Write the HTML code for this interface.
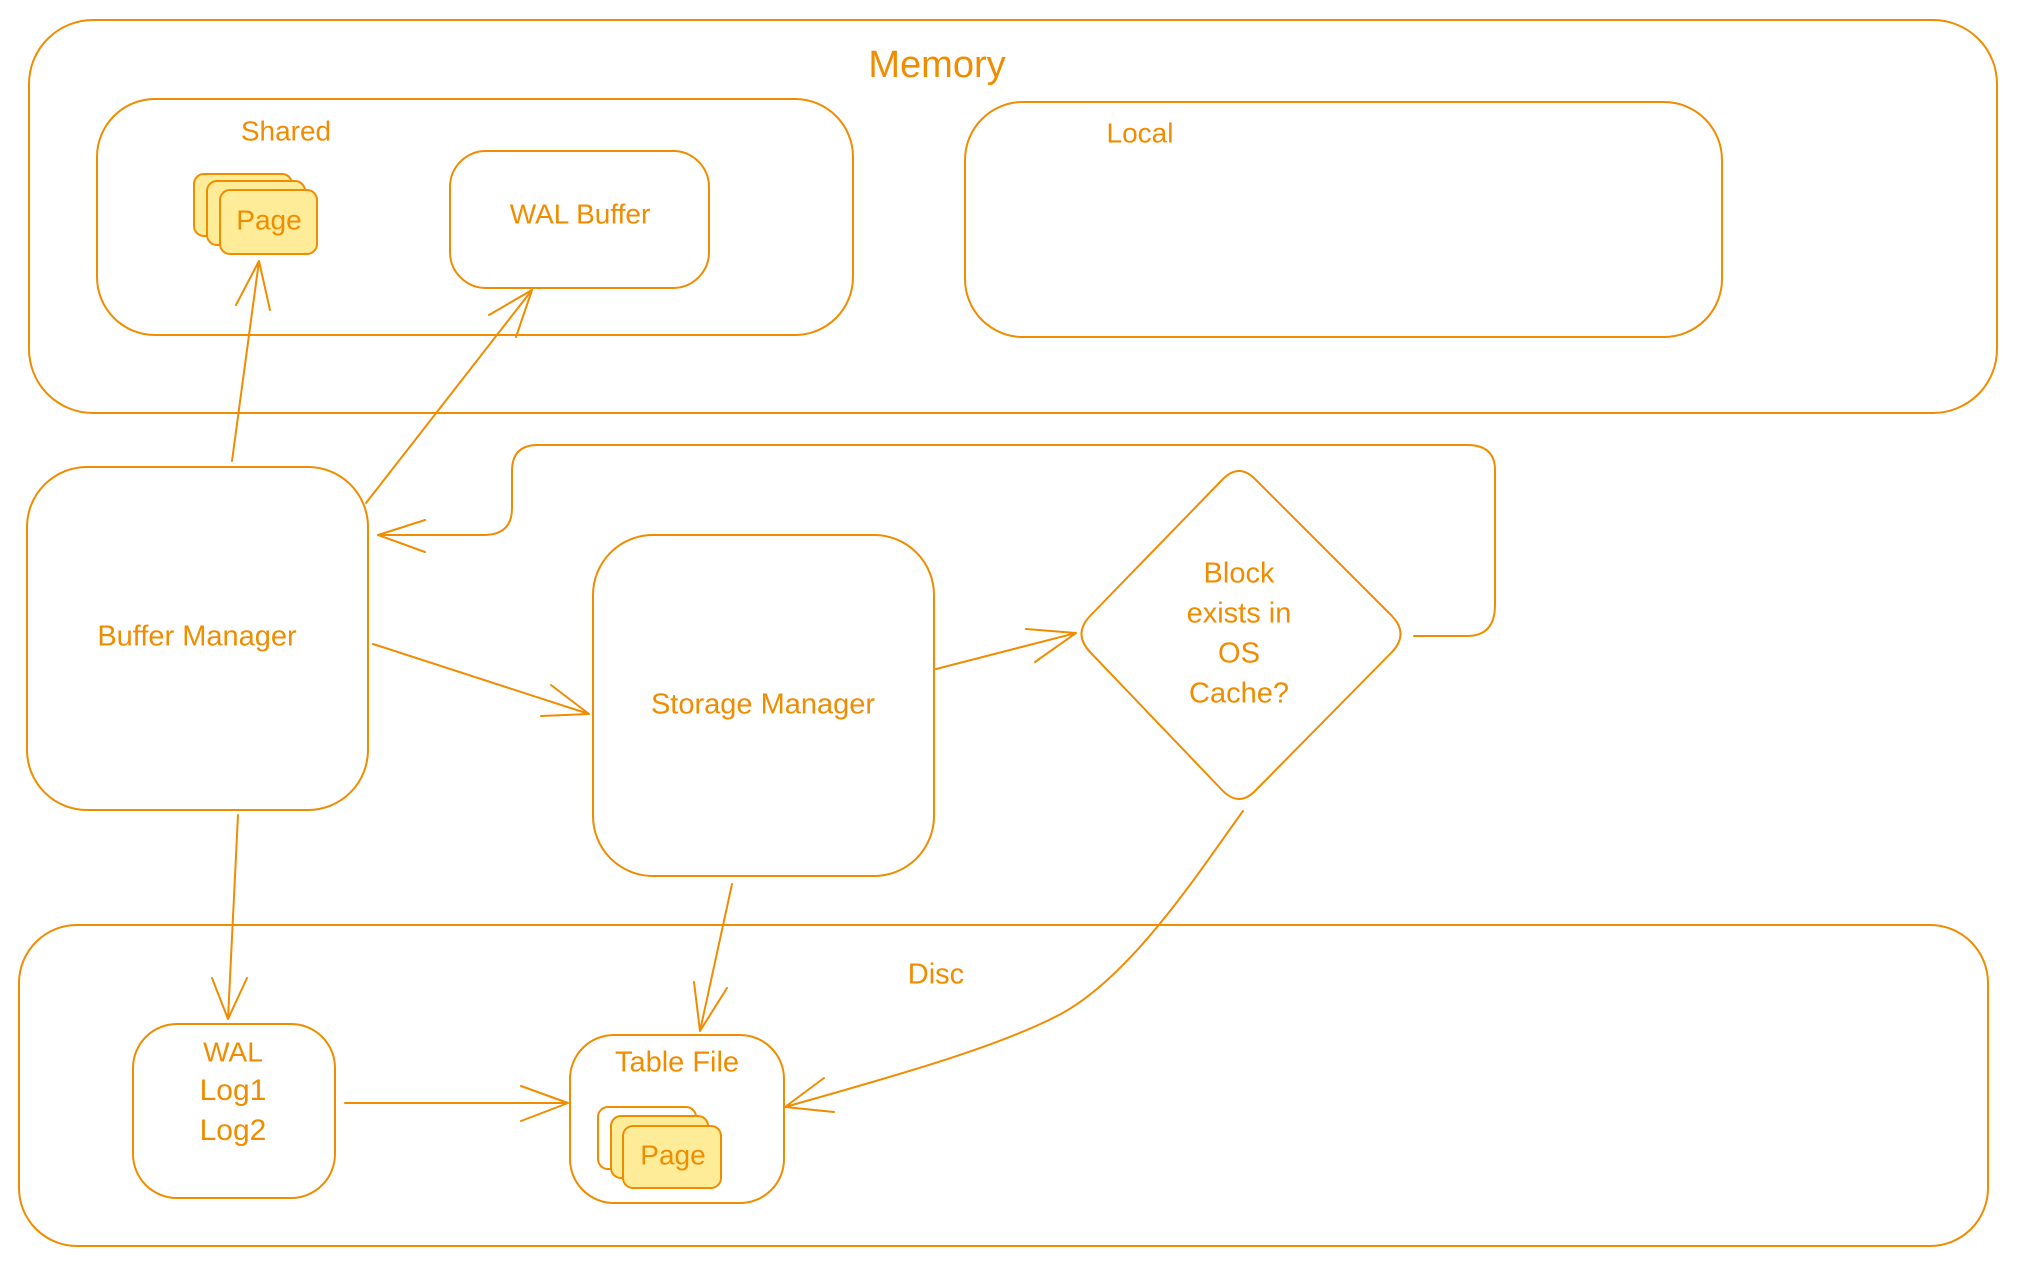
<!DOCTYPE html>
<html><head><meta charset="utf-8"><style>
html,body{margin:0;padding:0;background:#fff;}
svg{display:block;}
text{font-family:"Liberation Sans",sans-serif;fill:#f08c00;text-anchor:middle;dominant-baseline:middle;}
</style></head><body>
<svg width="2018" height="1267" viewBox="0 0 2018 1267" xmlns="http://www.w3.org/2000/svg">
<g fill="none" stroke="#f08c00" stroke-width="2" stroke-linecap="round" stroke-linejoin="round">
<!-- Memory -->
<rect x="29" y="20" width="1968" height="393" rx="64"/>
<rect x="97" y="99" width="756" height="236" rx="58"/>
<rect x="450" y="151" width="259" height="137" rx="36"/>
<rect x="965" y="102" width="757" height="235" rx="58"/>
<!-- Buffer / Storage -->
<rect x="27" y="467" width="341" height="343" rx="60"/>
<rect x="593" y="535" width="341" height="341" rx="60"/>
<!-- Diamond -->
<path d="M1222,480 Q1239,462 1256,480 L1392,616 Q1409,634 1392,652 L1256,790 Q1239,808 1222,790 L1090,652 Q1073,634 1090,616 Z"/>
<!-- Disc -->
<rect x="19" y="925" width="1969" height="321" rx="58"/>
<rect x="133" y="1024" width="202" height="174" rx="44"/>
<rect x="570" y="1035" width="214" height="168" rx="44"/>
<!-- arrows -->
<path d="M232,461 L259,261 M236,305 L259,261 L270,310"/>
<path d="M366,503 L532,290 M489,315 L532,290 L516,337"/>
<path d="M1414,636 L1467,636 Q1495,636 1495,605 L1495,470 Q1495,445 1467,445 L538,445 Q512,445 512,471 L512,508 Q512,535 484,535 L378,535 M425,520 L378,535 L425,552"/>
<path d="M373,644 L589,714 M551,685 L589,714 L541,716"/>
<path d="M936,669 L1076,633 M1026,629 L1076,633 L1035,662"/>
<path d="M238,815 L228,1019 M212,978 L228,1019 L247,978"/>
<path d="M732,884 L700,1031 M694,982 L700,1031 L727,988"/>
<path d="M345,1103 L568,1103 M521,1086 L568,1103 L521,1121"/>
<path d="M1243,811 C1200,870 1130,980 1055,1017 C990,1050 880,1080 785,1107 M824,1078 L785,1107 L834,1112"/>
</g>
<!-- page stacks -->
<g stroke="#f08c00" stroke-width="2">
<rect x="194" y="174" width="98" height="62" rx="10" fill="#ffec99"/>
<rect x="207" y="181" width="98" height="64" rx="10" fill="#ffec99"/>
<rect x="220" y="190" width="97" height="64" rx="10" fill="#ffec99"/>
<rect x="598" y="1107" width="98" height="62" rx="10" fill="#fff"/>
<rect x="611" y="1116" width="97" height="62" rx="10" fill="#ffec99"/>
<rect x="623" y="1126" width="98" height="62" rx="10" fill="#ffec99"/>
</g>
<text x="937" y="67" font-size="38">Memory</text>
<text x="286" y="133" font-size="28">Shared</text>
<text x="269" y="222" font-size="28">Page</text>
<text x="580" y="216" font-size="28">WAL Buffer</text>
<text x="1140" y="135" font-size="28">Local</text>
<text x="197" y="638" font-size="29">Buffer Manager</text>
<text x="763" y="706" font-size="29">Storage Manager</text>
<text x="1239" y="575" font-size="29">Block</text>
<text x="1239" y="615" font-size="29">exists in</text>
<text x="1239" y="655" font-size="29">OS</text>
<text x="1239" y="695" font-size="29">Cache?</text>
<text x="936" y="976" font-size="29">Disc</text>
<text x="233" y="1054" font-size="28">WAL</text>
<text x="233" y="1092" font-size="30">Log1</text>
<text x="233" y="1132" font-size="30">Log2</text>
<text x="677" y="1064" font-size="29">Table File</text>
<text x="673" y="1157" font-size="28">Page</text>
</svg>
</body></html>
